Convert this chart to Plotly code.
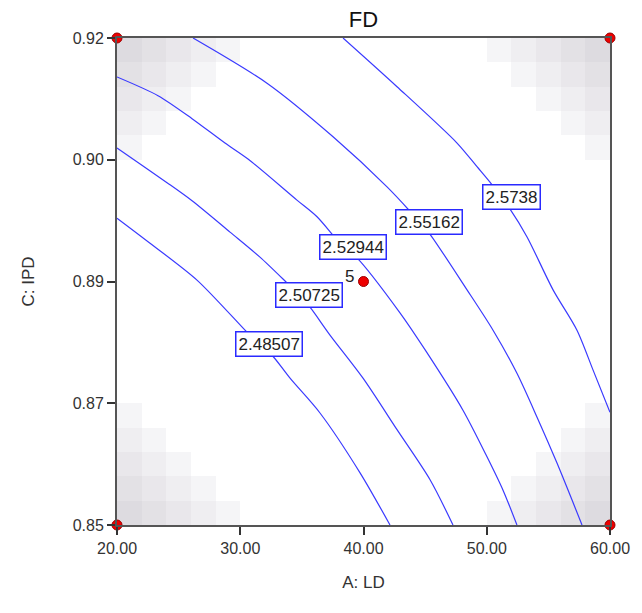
import plotly.graph_objects as go

# ---------------- data ----------------
X_RANGE = [20, 60]
Y_RANGE = [0.85, 0.92]
X_TICKS = [20, 30, 40, 50, 60]
X_TICK_TEXT = ["20.00", "30.00", "40.00", "50.00", "60.00"]
Y_TICKS = [0.85, 0.8675, 0.885, 0.9025, 0.92]
Y_TICK_TEXT = ["0.85", "0.87", "0.89", "0.90", "0.92"]

LEVELS = ["2.48507", "2.50725", "2.52944", "2.55162", "2.5738"]

L1_A = [20.00, 22.68, 26.49, 30.55, 31.52, 32.58, 34.04, 36.47, 39.72, 42.15]
L1_C = [0.8941, 0.8905, 0.8852, 0.8777, 0.8760, 0.8744, 0.8711, 0.8661, 0.8575, 0.8500]
L2_A = [20.00, 24.06, 26.09, 29.17, 31.60, 33.79, 34.77, 35.66, 37.28, 39.96, 42.72, 45.40, 47.26]
L2_C = [0.9042, 0.8992, 0.8966, 0.8921, 0.8885, 0.8848, 0.8831, 0.8813, 0.8773, 0.8711, 0.8637, 0.8565, 0.8500]
L3_A = [20.00, 23.33, 26.09, 28.76, 30.63, 34.60, 36.23, 38.34, 39.47, 42.96, 44.99, 48.07, 50.02, 51.32, 52.45]
L3_C = [0.9144, 0.9117, 0.9084, 0.9049, 0.9026, 0.8967, 0.8943, 0.8900, 0.8884, 0.8805, 0.8752, 0.8665, 0.8598, 0.8550, 0.8500]
L4_A = [26.17, 32.17, 37.53, 41.91, 43.77, 44.50, 45.31, 48.40, 50.51, 52.45, 54.08, 55.70, 57.73]
L4_C = [0.9200, 0.9135, 0.9058, 0.8986, 0.8951, 0.8936, 0.8920, 0.8838, 0.8780, 0.8718, 0.8655, 0.8589, 0.8500]
L5_A = [38.34, 42.72, 47.59, 49.21, 50.43, 51.16, 51.89, 53.27, 55.38, 57.32, 58.62, 60.00]
L5_C = [0.9200, 0.9130, 0.9049, 0.9015, 0.8989, 0.8971, 0.8954, 0.8914, 0.8838, 0.8780, 0.8723, 0.8662]
LINES_A = [L1_A, L2_A, L3_A, L4_A, L5_A]
LINES_C = [L1_C, L2_C, L3_C, L4_C, L5_C]
LABEL_INDEX = [4, 6, 7, 5, 5]   # point on each contour where its label sits

DESIGN_A = [20, 60, 20, 60, 40]
DESIGN_C = [0.85, 0.85, 0.92, 0.92, 0.885]
CENTER_COUNT = "5"

# design-space shading: grey shade by step away from each corner (0 = corner)
SHADE_COLORS = ["#dddbe0", "#e3e1e5", "#e9e7eb", "#efeef1", "#f5f5f7"]
N_CELLS = 20

FONT = "Liberation Sans, Arial"

# ---------------- figure ----------------
fig = go.Figure()

cw = (X_RANGE[1] - X_RANGE[0]) / N_CELLS
ch = (Y_RANGE[1] - Y_RANGE[0]) / N_CELLS
xc = [X_RANGE[0] + cw * (k + 0.5) for k in range(N_CELLS)]
yc = [Y_RANGE[0] + ch * (k + 0.5) for k in range(N_CELLS)]
z = [[None] * N_CELLS for _ in range(N_CELLS)]
nsh = len(SHADE_COLORS)
for i in range(nsh):
    for j in range(nsh - i):
        for r, c in [(i, j), (i, N_CELLS - 1 - j), (N_CELLS - 1 - i, j), (N_CELLS - 1 - i, N_CELLS - 1 - j)]:
            z[r][c] = i + j
cs = [[k / (nsh - 1), col] for k, col in enumerate(SHADE_COLORS)]
fig.add_trace(go.Heatmap(x=xc, y=yc, z=z, colorscale=cs, zmin=0, zmax=nsh - 1,
                         showscale=False, hoverinfo="skip"))

for a, c in zip(LINES_A, LINES_C):
    fig.add_trace(go.Scatter(x=a, y=c, mode="lines",
                             line=dict(color="#3a3aff", width=1.2, shape="spline", smoothing=0.8),
                             hoverinfo="skip", showlegend=False))

for lab, a, c, idx in zip(LEVELS, LINES_A, LINES_C, LABEL_INDEX):
    fig.add_annotation(x=a[idx], y=c[idx], text=lab, showarrow=False, xshift=10,
                       font=dict(family=FONT, size=17, color="#222222"),
                       bgcolor="white", bordercolor="#2a2aff", borderwidth=1.5, borderpad=2)

fig.add_trace(go.Scatter(x=DESIGN_A, y=DESIGN_C, mode="markers",
                         marker=dict(color="#ee0000", size=10, line=dict(color="#990000", width=1)),
                         cliponaxis=False, hoverinfo="skip", showlegend=False))
fig.add_annotation(x=DESIGN_A[4], y=DESIGN_C[4], text=CENTER_COUNT, showarrow=False,
                   xshift=-14, yshift=5, font=dict(family=FONT, size=17, color="#222222"))

axis_common = dict(showgrid=False, zeroline=False, showline=True, linecolor="#555555", linewidth=2,
                   mirror=True, ticks="outside", ticklen=8, tickwidth=1.5, tickcolor="#333333",
                   tickfont=dict(family=FONT, size=16, color="#333333"))

fig.update_layout(
    width=642, height=613,
    margin=dict(l=117, r=32, t=38, b=88),
    paper_bgcolor="white", plot_bgcolor="white",
    showlegend=False,
    title=dict(text="FD", x=0.5, xref="paper", xanchor="center", y=0.968, yanchor="middle",
               font=dict(family=FONT, size=22, color="#111111")),
    xaxis=dict(range=X_RANGE, tickvals=X_TICKS, ticktext=X_TICK_TEXT,
               title=dict(text="A: LD", standoff=20,
                          font=dict(family=FONT, size=17, color="#333333")),
               **axis_common),
    yaxis=dict(range=Y_RANGE, tickvals=Y_TICKS, ticktext=Y_TICK_TEXT,
               title=dict(text="C: IPD", standoff=34,
                          font=dict(family=FONT, size=17, color="#333333")),
               **axis_common),
)

fig.write_html("out.html")
